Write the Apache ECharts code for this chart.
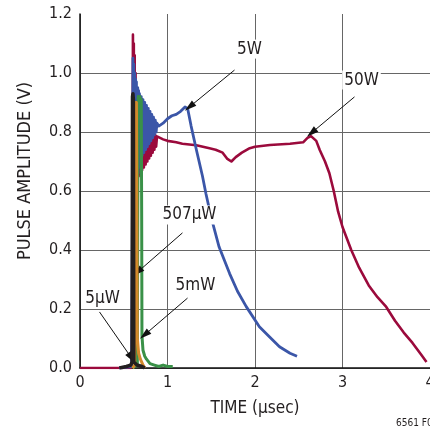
<!DOCTYPE html>
<html><head><meta charset="utf-8">
<script src="https://cdn.jsdelivr.net/npm/echarts@6/dist/echarts.min.js"></script>
<style>html,body{margin:0;padding:0;background:#fff}#c{width:430px;height:434px}</style>
</head><body><div id="c"></div>
<script>
// ---- data (time µs, amplitude V) ----
const xTicks = [0, 1, 2, 3, 4];
const yTicks = [0.0, 0.2, 0.4, 0.6, 0.8, 1.0, 1.2];

const s50W = [[0,0],[0.58,0],[0.595,0.02],[0.6,0.5],[0.605,1.13],[0.61,0.4],[0.615,1.1],[0.62,0.45],[0.625,1.06],
 [0.63,0.55],[0.635,1.0],[0.64,0.6],[0.65,0.95],[0.655,0.62],[0.66,0.92],[0.67,0.65],[0.68,0.9],[0.69,0.66],[0.70,0.88],
 [0.71,0.67],[0.72,0.86],[0.73,0.68],[0.74,0.85],[0.75,0.69],[0.76,0.84],[0.77,0.70],[0.78,0.83],[0.79,0.71],[0.80,0.82],
 [0.81,0.72],[0.82,0.81],[0.83,0.73],[0.84,0.80],[0.85,0.74],[0.86,0.79],[0.87,0.75],[0.88,0.785],[0.9,0.78],[0.95,0.775],
 [1.0,0.77],[1.1,0.765],[1.17,0.76],[1.33,0.755],[1.48,0.745],[1.55,0.74],[1.63,0.73],[1.68,0.71],[1.73,0.70],[1.78,0.715],
 [1.85,0.73],[1.94,0.745],[2.0,0.75],[2.17,0.756],[2.4,0.76],[2.55,0.765],[2.6,0.78],[2.64,0.786],[2.7,0.77],[2.74,0.739],
 [2.8,0.70],[2.85,0.66],[2.9,0.60],[2.95,0.53],[3.0,0.478],[3.1,0.40],[3.19,0.34],[3.3,0.28],[3.4,0.24],[3.5,0.207],
 [3.6,0.16],[3.7,0.12],[3.8,0.085],[3.9,0.045],[3.96,0.02]];

const s5W = [[0.45,0],[0.59,0.005],[0.6,0.6],[0.605,1.05],[0.61,0.5],[0.615,1.03],[0.62,0.55],[0.625,1.0],[0.63,0.6],
 [0.635,0.98],[0.64,0.62],[0.645,0.97],[0.65,0.64],[0.66,0.95],[0.665,0.66],[0.67,0.94],[0.675,0.68],[0.68,0.93],
 [0.69,0.70],[0.70,0.92],[0.71,0.72],[0.72,0.91],[0.73,0.73],[0.74,0.90],[0.75,0.74],[0.76,0.89],[0.77,0.75],[0.78,0.88],
 [0.79,0.76],[0.80,0.87],[0.81,0.77],[0.82,0.86],[0.83,0.78],[0.84,0.85],[0.85,0.79],[0.86,0.84],[0.87,0.80],[0.88,0.83],
 [0.9,0.82],[0.95,0.83],[1.0,0.845],[1.05,0.855],[1.1,0.86],[1.15,0.87],[1.2,0.885],[1.23,0.88],[1.27,0.82],[1.33,0.74],
 [1.40,0.65],[1.44,0.59],[1.5,0.51],[1.59,0.41],[1.71,0.32],[1.8,0.26],[1.9,0.208],[2.05,0.14],[2.15,0.11],[2.28,0.072],
 [2.4,0.05],[2.48,0.04]];

const s5mW = [[0.6,0],[0.655,0.01],[0.66,0.5],[0.665,0.92],[0.675,0.9],[0.685,0.92],[0.695,0.9],[0.70,0.91],[0.705,0.5],
 [0.708,0.11],[0.72,0.06],[0.74,0.04],[0.76,0.03],[0.8,0.015],[0.85,0.01],[0.9,0.005],[0.95,0.01],[1.0,0.005],[1.06,0.005]];

const s507uW = [[0.6,0],[0.625,0.01],[0.63,0.5],[0.635,0.9],[0.64,0.88],[0.645,0.9],[0.65,0.5],[0.655,0.1],
 [0.67,0.05],[0.69,0.03],[0.72,0.01],[0.74,0]];

const s5uW = [[0.45,0],[0.53,0.005],[0.58,0.01],[0.595,0.02],[0.6,0.92],[0.605,0.93],[0.61,0.91],[0.615,0.02],
 [0.65,0.01],[0.71,0.005],[0.74,0]];

// annotations: label, label position, arrow start, arrow tip (data coords)
const annLabels = ['5W', '50W', '507µW', '5mW', '5µW'];
const annText   = [[1.937,1.081],[3.217,0.976],[1.251,0.519],[1.32,0.278],[0.257,0.234]];
const annFrom   = [[1.766,1.010],[3.137,0.919],[1.171,0.458],[1.229,0.237],[0.223,0.19]];
const annTo     = [[1.251,0.885],[2.646,0.797],[0.657,0.325],[0.737,0.112],[0.589,0.034]];

const FONT = "'DejaVu Sans Condensed','Liberation Sans',sans-serif";
const TXT = '#231f20';

function lineSeries(name, data, color, width, z) {
  return { name, type: 'line', data, showSymbol: false, symbol: 'none', z,
    lineStyle: { color, width, join: 'round' }, silent: true };
}

const chart = echarts.init(document.getElementById('c'), null, { renderer: 'canvas' });
chart.setOption({
  animation: false,
  backgroundColor: '#fff',
  grid: { left: 80, right: 0, top: 14, bottom: 66, containLabel: false, outerBoundsMode: 'none' },
  xAxis: {
    type: 'value', min: xTicks[0], max: xTicks[xTicks.length - 1], interval: 1,
    name: 'TIME (µsec)', nameLocation: 'middle', nameGap: 32,
    nameTextStyle: { fontFamily: FONT, fontSize: 17, color: TXT },
    axisLine: { show: true, lineStyle: { color: '#111', width: 1.5 } },
    axisTick: { show: false },
    axisLabel: { fontFamily: FONT, fontSize: 16, color: TXT, margin: 7, showMaxLabel: true },
    splitLine: { show: true, lineStyle: { color: '#666', width: 1 } }
  },
  yAxis: {
    type: 'value', min: yTicks[0], max: yTicks[yTicks.length - 1], interval: 0.2,
    axisLine: { show: true, lineStyle: { color: '#111', width: 1.5 } },
    axisTick: { show: false },
    axisLabel: { fontFamily: FONT, fontSize: 16, color: TXT, margin: 8, formatter: v => v.toFixed(1) },
    splitLine: { show: true, showMaxLine: false, lineStyle: { color: '#666', width: 1 } }
  },
  series: [
    lineSeries('50W', s50W, '#9b0a3c', 2.6, 2),
    lineSeries('5W', s5W, '#3b56a8', 2.8, 3),
    lineSeries('5mW', s5mW, '#3a9148', 3, 4),
    lineSeries('507µW', s507uW, '#d3892c', 3, 5),
    lineSeries('5µW', s5uW, '#231f20', 3.5, 6),
    {
      name: 'annotations', type: 'scatter', z: 10, silent: true,
      symbolSize: 1, itemStyle: { opacity: 0 },
      data: annLabels.map((t, i) => ({ name: t, value: annText[i] })),
      label: { show: true, position: 'inside', formatter: p => p.name, opacity: 1,
        fontFamily: FONT, fontSize: 17, color: TXT, backgroundColor: '#fff', padding: [1, 2] },
      markLine: {
        silent: true, animation: false,
        symbol: ['none', 'triangle'], symbolSize: 10,
        label: { show: false },
        lineStyle: { color: '#111', width: 1, type: 'solid', opacity: 1 },
        itemStyle: { color: '#111', opacity: 1 },
        data: annFrom.map((f, i) => [
          { coord: f, symbol: 'none' },
          { coord: annTo[i], symbol: 'triangle', symbolSize: [7, 12] }
        ])
      }
    }
  ],
  graphic: [
    { type: 'text', x: 25, y: 171, rotation: Math.PI / 2,
      style: { text: 'PULSE AMPLITUDE (V)', fontFamily: FONT, fontSize: 18, fill: TXT,
        align: 'center', verticalAlign: 'middle' } },
    { type: 'text', left: 396, top: 418,
      style: { text: '6561 F06', fontFamily: FONT, fontSize: 10, fill: TXT } }
  ]
});
</script></body></html>
